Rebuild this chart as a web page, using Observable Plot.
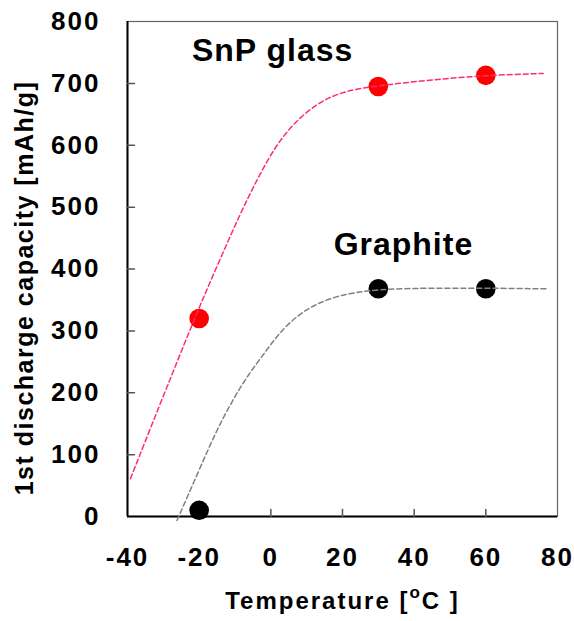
<!DOCTYPE html>
<html><head><meta charset="utf-8">
<script src="https://cdn.jsdelivr.net/npm/d3@7"></script>
<script src="https://cdn.jsdelivr.net/npm/@observablehq/plot@0.6"></script>
<style>
body{margin:0;background:#fff}
#chart svg{font-family:"Liberation Sans",Arial,sans-serif;}
#chart svg g[aria-label="x-axis tick label"] text,
#chart svg g[aria-label="y-axis tick label"] text{letter-spacing:2px}
#chart svg .xlab text{letter-spacing:2px}
#chart svg .ylab text{letter-spacing:1.5px}
#chart svg .ann text{letter-spacing:1px}
</style>
</head><body><div id="chart"></div>
<script>
// measured points
const temps = [-20, 30, 60];
const snpCapacity = [320, 695, 713];
const graphiteCapacity = [10, 368, 368];

// dashed guide curves
const snpCurveT = [-39.2, -31.3, -23.8, -19.2, -14.0, -8.5, -3.8, 0.8, 6.4, 13.9, 21.3, 29.7, 45, 60, 76];
const snpCurveC = [61, 176, 284, 349, 418, 490, 545, 594, 637, 672, 689, 696, 706, 713, 716];
const graphiteCurveT = [-26.2, -20.1, -15.4, -10.8, -6.1, -1.5, 2.1, 8.3, 17.5, 30, 45, 60, 77];
const graphiteCurveC = [-6.5, 74, 136, 187, 231, 266, 295, 331, 357, 368, 369, 369, 368];

const xTicks = [-40, -20, 0, 20, 40, 60, 80];
const yTicks = [0, 100, 200, 300, 400, 500, 600, 700, 800];
const xInnerTicks = [-20, 0, 20, 40, 60];
const yInnerTicks = [100, 200, 300, 400, 500, 600, 700];

const seriesNames = ["SnP glass", "Graphite"];
const labelT = [0.5, 37];
const labelC = [753, 440];

const xTitle = "Temperature [oC ]";
const yTitle = "1st discharge capacity [mAh/g]";

const snpPts = temps.map((t, i) => ({t, c: snpCapacity[i]}));
const grPts = temps.map((t, i) => ({t, c: graphiteCapacity[i]}));
const snpCurve = snpCurveT.map((t, i) => ({t, c: snpCurveC[i]}));
const grCurve = graphiteCurveT.map((t, i) => ({t, c: graphiteCurveC[i]}));
const annotations = seriesNames.map((s, i) => ({s, t: labelT[i], c: labelC[i]}));

const tickShape = {draw(ctx, l) { ctx.moveTo(0, 0); ctx.lineTo(0, -l); }};

const chart = Plot.plot({
  width: 574, height: 621,
  marginLeft: 127, marginRight: 17, marginTop: 21, marginBottom: 105,
  x: {domain: [-40, 80]},
  y: {domain: [0, 800]},
  marks: [
    Plot.frame({stroke: "#666", strokeWidth: 1.2}),
    Plot.ruleX([-40], {stroke: "#000", strokeWidth: 2}),
    Plot.ruleY([0], {stroke: "#000", strokeWidth: 2}),
    Plot.vector(yInnerTicks, {y: d => d, frameAnchor: "left", length: 7, rotate: 90, anchor: "start", shape: tickShape, stroke: "#555", strokeWidth: 1.5}),
    Plot.vector(xInnerTicks, {x: d => d, frameAnchor: "bottom", length: 7, rotate: 0, anchor: "start", shape: tickShape, stroke: "#555", strokeWidth: 1.5}),
    Plot.axisX({ticks: xTicks, tickSize: 0, tickPadding: 31, fontSize: 26, fontWeight: "bold", label: null, tickFormat: d => String(d).replace("−", "-")}),
    Plot.axisY({ticks: yTicks, tickSize: 0, tickPadding: 27, fontSize: 26, fontWeight: "bold", label: null}),
    Plot.dot(snpPts, {x: "t", y: "c", r: 9.8, fill: "#ff0000"}),
    Plot.dot(grPts, {x: "t", y: "c", r: 9.8, fill: "#000"}),
    Plot.line(snpCurve, {x: "t", y: "c", curve: "basis", stroke: "#ff2d6f", strokeWidth: 1.5, strokeDasharray: "5,3"}),
    Plot.line(grCurve, {x: "t", y: "c", curve: "basis", stroke: "#808080", strokeWidth: 1.5, strokeDasharray: "5,3"}),
    Plot.text(annotations, {x: "t", y: "c", text: "s", fontSize: 32, fontWeight: "bold", lineAnchor: "middle", fill: "#000", className: "ann"}),
    Plot.text([xTitle], {text: d => d, frameAnchor: "bottom", dy: 92, fontSize: 24, fontWeight: "bold", className: "xlab"}),
    Plot.text([yTitle], {text: d => d, frameAnchor: "left", textAnchor: "middle", rotate: -90, dx: -103, dy: 19, fontSize: 25, fontWeight: "bold", className: "ylab"})
  ]
});
document.getElementById("chart").appendChild(chart);

// render the degree "o" as a superscript
d3.select(chart).selectAll(".xlab text").each(function() {
  const el = d3.select(this);
  const txt = el.text();
  const k = txt.indexOf("[o");
  if (k < 0) return;
  el.text(null);
  el.append("tspan").text(txt.slice(0, k + 1));
  el.append("tspan").attr("dy", -11).attr("font-size", "17px").text("o");
  el.append("tspan").attr("dy", 11).text(txt.slice(k + 2));
});
</script>
</body></html>
